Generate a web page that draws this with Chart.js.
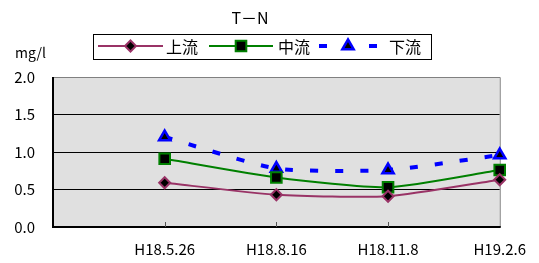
<!DOCTYPE html>
<html>
<head>
<meta charset="utf-8">
<script src="https://cdn.jsdelivr.net/npm/chart.js@4/dist/chart.umd.min.js"></script>
<style>
  html, body { margin: 0; padding: 0; background: #fff; }
  #wrap { width: 539px; height: 263px; }
</style>
</head>
<body>
<div id="wrap"><canvas id="tn"></canvas></div>
<script>
const categories = ['H18.5.26', 'H18.8.16', 'H18.11.8', 'H19.2.6']
const upstream = [0.59, 0.43, 0.41, 0.63]
const midstream = [0.91, 0.66, 0.53, 0.76]
const downstream = [1.2, 0.78, 0.76, 0.96]
const seriesNames = ['上流', '中流', '下流']
const yTicks = [0, 0.5, 1.0, 1.5, 2.0]

const FONT = "'Noto Sans CJK JP', 'Noto Sans', sans-serif"

// first slot is left empty, like the sheet
const labels = [''].concat(categories)
const pad = arr => [null].concat(arr)

function marker(ctx, style, x, y, r, fill, stroke, lw) {
  ctx.save()
  ctx.setLineDash([])
  ctx.fillStyle = fill
  ctx.strokeStyle = stroke
  ctx.lineWidth = lw
  ctx.beginPath()
  if (style === 'rectRot') {
    ctx.moveTo(x, y - r); ctx.lineTo(x + r, y); ctx.lineTo(x, y + r); ctx.lineTo(x - r, y)
  } else if (style === 'rect') {
    const s = r * Math.SQRT1_2
    ctx.rect(x - s, y - s, 2 * s, 2 * s)
  } else {
    ctx.moveTo(x, y - r); ctx.lineTo(x + r * 0.87, y + r * 0.5); ctx.lineTo(x - r * 0.87, y + r * 0.5)
  }
  ctx.closePath()
  ctx.fill()
  ctx.stroke()
  ctx.restore()
}

const decor = {
  id: 'decor',
  beforeDraw(chart) {
    const { ctx, chartArea: a } = chart
    ctx.save()
    ctx.fillStyle = '#e0e0e0'
    ctx.fillRect(a.left, a.top, a.right - a.left, a.bottom - a.top)
    ctx.restore()
  },
  beforeDatasetsDraw(chart) {
    const { ctx, chartArea: a } = chart
    const xs = chart.scales.x
    ctx.save()
    ctx.strokeStyle = '#808080'
    ctx.lineWidth = 1
    ctx.beginPath()
    ctx.moveTo(a.left, a.top + 0.5); ctx.lineTo(a.right + 0.5, a.top + 0.5); ctx.lineTo(a.right + 0.5, a.bottom)
    ctx.stroke()
    ctx.strokeStyle = '#000'
    ctx.lineWidth = 2
    ctx.beginPath()
    ctx.moveTo(a.left, a.top); ctx.lineTo(a.left, a.bottom); ctx.lineTo(a.right + 1, a.bottom)
    ctx.stroke()
    ctx.strokeStyle = '#555'
    ctx.lineWidth = 1
    for (let i = 1; i < labels.length - 1; i++) {
      const px = Math.round(xs.getPixelForValue(i)) + 0.5
      ctx.beginPath(); ctx.moveTo(px, a.bottom - 5); ctx.lineTo(px, a.bottom); ctx.stroke()
    }
    ctx.restore()
  },
  afterDraw(chart) {
    const ctx = chart.ctx
    ctx.save()
    ctx.fillStyle = '#000'
    ctx.textBaseline = 'middle'
    ctx.textAlign = 'center'
    ctx.font = '16px ' + FONT
    ctx.fillText('T－N', 250, 18)
    ctx.textAlign = 'left'
    ctx.font = '14px ' + FONT
    ctx.fillText('mg/l', 15, 53)

    // legend box
    ctx.strokeStyle = '#000'
    ctx.lineWidth = 1
    ctx.strokeRect(93.5, 34.5, 338, 25)
    const ly = 46
    const items = [[98, 163, 166], [209, 273, 278], [319, 377, 389]]
    chart.data.datasets.forEach((ds, i) => {
      const [x0, x1, tx] = items[i]
      ctx.save()
      ctx.strokeStyle = ds.borderColor
      ctx.lineWidth = ds.borderWidth
      ctx.setLineDash(ds.borderDash || [])
      ctx.beginPath(); ctx.moveTo(x0, ly); ctx.lineTo(x1, ly); ctx.stroke()
      ctx.restore()
      marker(ctx, ds.pointStyle, (x0 + x1) / 2, ly, ds.pointRadius, ds.pointBackgroundColor, ds.pointBorderColor, ds.pointBorderWidth)
      ctx.fillStyle = '#000'
      ctx.font = '16px ' + FONT
      ctx.fillText(ds.label, tx, ly + 1)
    })
    ctx.restore()
  },
}

new Chart(document.getElementById('tn'), {
  type: 'line',
  data: {
    labels: labels,
    datasets: [
      {
        label: seriesNames[0],
        data: pad(upstream),
        borderColor: '#993366',
        borderWidth: 2,
        pointStyle: 'rectRot',
        pointRadius: 5.5,
        pointBackgroundColor: '#000',
        pointBorderColor: '#993366',
        pointBorderWidth: 2,
        tension: 0.2,
      },
      {
        label: seriesNames[1],
        data: pad(midstream),
        borderColor: '#008000',
        borderWidth: 2,
        pointStyle: 'rect',
        pointRadius: 7.5,
        pointBackgroundColor: '#000',
        pointBorderColor: '#008000',
        pointBorderWidth: 2,
        tension: 0.2,
      },
      {
        label: seriesNames[2],
        data: pad(downstream),
        borderColor: '#0000ff',
        borderWidth: 4,
        borderDash: [8, 17],
        pointStyle: 'triangle',
        pointRadius: 6.5,
        pointBackgroundColor: '#000',
        pointBorderColor: '#0000ff',
        pointBorderWidth: 2.5,
        tension: 0.2,
      },
    ],
  },
  options: {
    responsive: true,
    maintainAspectRatio: false,
    animation: false,
    layout: { padding: { top: 77, right: 37, left: 0, bottom: 0 } },
    plugins: {
      legend: { display: false },
      title: { display: false },
      tooltip: { enabled: false },
    },
    scales: {
      x: {
        type: 'category',
        offset: false,
        grid: { display: false, drawTicks: false },
        border: { display: false },
        ticks: {
          autoSkip: false,
          maxRotation: 0,
          padding: 13,
          color: '#000',
          font: { family: FONT, size: 15 },
        },
        afterFit: s => { s.height = 36 },
      },
      y: {
        min: 0,
        max: 2,
        afterBuildTicks: s => { s.ticks = yTicks.map(v => ({ value: v })) },
        grid: { color: '#000', lineWidth: 1, drawTicks: false },
        border: { display: false },
        ticks: {
          padding: 18,
          color: '#000',
          font: { family: FONT, size: 15 },
          callback: v => Number(v).toFixed(1),
        },
        afterFit: s => { s.width = 53 },
      },
    },
  },
  plugins: [decor],
})
</script>
</body>
</html>
